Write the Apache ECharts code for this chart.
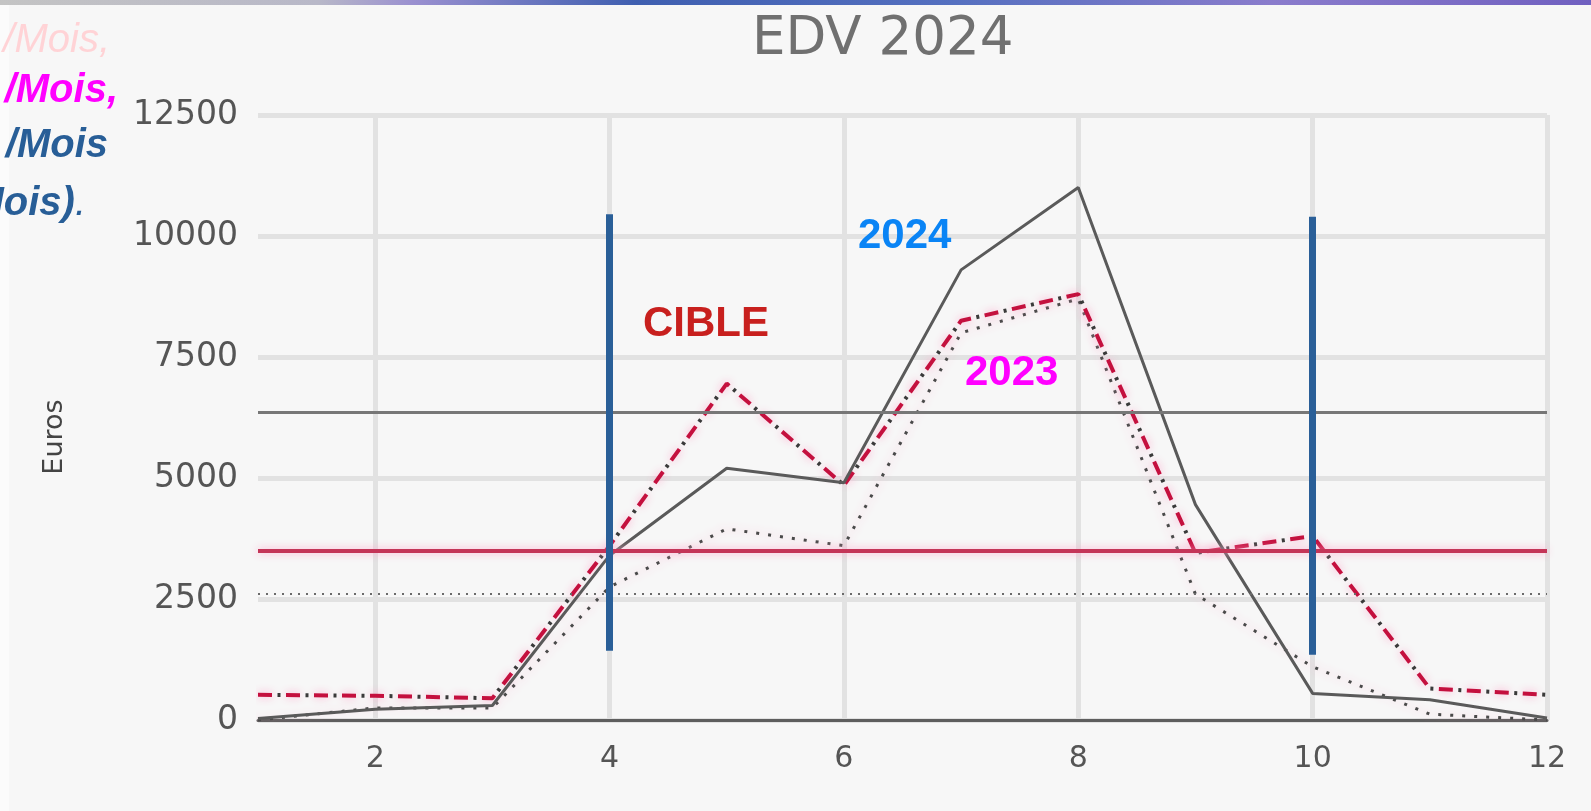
<!DOCTYPE html>
<html><head><meta charset="utf-8">
<script src="https://cdn.jsdelivr.net/npm/echarts@6/dist/echarts.min.js"></script>
<style>html,body{margin:0;padding:0;background:#f7f7f7}#c{width:1591px;height:811px}</style>
</head><body><div id="c"></div>
<script>
// ---- data ----
const months = ['1','2','3','4','5','6','7','8','9','10','11','12'];
const yTicks = [0, 2500, 5000, 7500, 10000, 12500];
const s2024 = [30, 220, 300, 3400, 5200, 4900, 9300, 11000, 4450, 550, 420, 40];
const s2023 = [520, 500, 450, 3600, 6950, 4850, 8250, 8800, 3450, 3800, 650, 520];
const sDotted = [0, 250, 250, 2750, 3950, 3600, 8000, 8700, 2600, 1100, 120, 0];
const refGray = 6350;
const refRed = 3500;
const refDotted = 2600;
const markerMonths = ['4', '10'];
const markerTop = [10450, 10400];
const markerBottom = [1430, 1350];
const titleText = 'EDV 2024';
const yName = 'Euros';
const noteLabels = ['CIBLE', '2024', '2023'];
const sideLines = ['/Mois,', '/Mois,', '/Mois', 'Mois)'];

const chart = echarts.init(document.getElementById('c'), null, {renderer: 'canvas'});
const evenIdx = (i) => i % 2 === 1;
const pinkGlow = {shadowColor: 'rgba(255,160,200,0.9)', shadowBlur: 8};

const option = {
  animation: false,
  backgroundColor: '#f7f7f7',
  title: {
    text: titleText, left: 747, top: 9,
    textStyle: {fontFamily: 'DejaVu Sans', fontSize: 53, fontWeight: 'normal', color: '#707070'}
  },
  grid: {left: 258, right: 44, top: 115, bottom: 91, containLabel: false},
  xAxis: {
    type: 'category', data: months, boundaryGap: false,
    axisLine: {show: true, lineStyle: {color: '#5e5e5e', width: 3}},
    axisTick: {show: false},
    axisLabel: {interval: evenIdx, fontFamily: 'DejaVu Sans', fontSize: 30, color: '#555', margin: 24},
    splitLine: {show: true, interval: evenIdx, lineStyle: {color: '#e2e2e2', width: 5}}
  },
  yAxis: {
    type: 'value', min: yTicks[0], max: yTicks[yTicks.length - 1], interval: yTicks[1] - yTicks[0],
    axisLine: {show: false}, axisTick: {show: false},
    axisLabel: {fontFamily: 'DejaVu Sans', fontSize: 33, color: '#555', margin: 20, formatter: (v) => String(v)},
    splitLine: {show: true, lineStyle: {color: '#e2e2e2', width: 5}}
  },
  series: [
    {
      name: 'refs', type: 'line', data: [], z: 1, silent: true,
      markLine: {
        silent: true, symbol: 'none', label: {show: false},
        data: [
          {yAxis: refGray, lineStyle: {color: '#777', width: 3, type: 'solid'}},
          {yAxis: refRed, lineStyle: Object.assign({color: '#c43558', width: 4, type: 'solid'}, pinkGlow)},
          {yAxis: refDotted, lineStyle: {color: '#6a6a6a', width: 2, type: [2, 6]}}
        ]
      }
    },
    {
      name: 'dotted', type: 'line', data: sDotted, showSymbol: false, z: 2,
      lineStyle: Object.assign({color: '#4a4a4a', width: 3, type: [3, 9]}, pinkGlow)
    },
    {
      name: '2023', type: 'line', data: s2023, showSymbol: false, z: 3,
      lineStyle: Object.assign({color: '#c4103e', width: 4, type: [14, 14]}, pinkGlow)
    },
    {
      name: '2023 dots', type: 'line', data: s2023, showSymbol: false, z: 3,
      lineStyle: {color: '#3a3a3a', width: 4, type: [3, 25], dashOffset: 8.5}
    },
    {
      name: '2024', type: 'line', data: s2024, showSymbol: false, z: 4,
      lineStyle: {color: '#5a5a5a', width: 3}
    },
    {
      name: 'markers', type: 'line', data: [], z: 10, silent: true,
      markLine: {
        silent: true, symbol: 'none', label: {show: false},
        lineStyle: {color: '#2a5f98', width: 7, type: 'solid'},
        data: markerMonths.map((m, i) => [{coord: [m, markerTop[i]]}, {coord: [m, markerBottom[i]]}])
      }
    }
  ],
  graphic: [
    {type: 'rect', z: 100, shape: {x: 0, y: 0, width: 1591, height: 5},
     style: {fill: new echarts.graphic.LinearGradient(0, 0, 1, 0, [
       {offset: 0, color: '#c4c4c4'}, {offset: 0.2, color: '#b8b8c8'}, {offset: 0.26, color: '#9a90d0'},
       {offset: 0.4, color: '#3f5fb0'}, {offset: 0.6, color: '#5570c0'}, {offset: 0.8, color: '#8a7ccc'},
       {offset: 1, color: '#7060c0'}])}},
    {type: 'rect', z: -1, shape: {x: 0, y: 5, width: 9, height: 806}, style: {fill: '#fbfbfb'}},
    {type: 'text', x: 55, y: 437, rotation: Math.PI / 2, z: 100,
     style: {text: yName, fontFamily: 'DejaVu Sans', fontSize: 27, fill: '#444', align: 'center', verticalAlign: 'middle'}},
    {type: 'text', x: 643, y: 324, z: 100,
     style: {text: noteLabels[0], fontFamily: 'Liberation Sans', fontWeight: 'bold', fontSize: 42, fill: '#c8201e', align: 'left', verticalAlign: 'middle'}},
    {type: 'text', x: 858, y: 236, z: 100,
     style: {text: noteLabels[1], fontFamily: 'Liberation Sans', fontWeight: 'bold', fontSize: 42, fill: '#0a84f5', align: 'left', verticalAlign: 'middle'}},
    {type: 'text', x: 965, y: 373, z: 100,
     style: {text: noteLabels[2], fontFamily: 'Liberation Sans', fontWeight: 'bold', fontSize: 42, fill: '#ff00ff', align: 'left', verticalAlign: 'middle'}},
    {type: 'text', x: 110, y: 41, z: 100,
     style: {text: sideLines[0], fontFamily: 'Liberation Sans', fontStyle: 'italic', fontSize: 40, fill: '#ffd3d6', align: 'right', verticalAlign: 'middle'}},
    {type: 'text', x: 118, y: 91, z: 100,
     style: {text: sideLines[1], fontFamily: 'Liberation Sans', fontStyle: 'italic', fontWeight: 'bold', fontSize: 40, fill: '#ff00ff', align: 'right', verticalAlign: 'middle'}},
    {type: 'text', x: 108, y: 146, z: 100,
     style: {text: sideLines[2], fontFamily: 'Liberation Sans', fontStyle: 'italic', fontWeight: 'bold', fontSize: 40, fill: '#285e97', align: 'right', verticalAlign: 'middle'}},
    {type: 'text', x: 86, y: 204, z: 100,
     style: {text: '{b|' + sideLines[3] + '}{n|.}', align: 'right', verticalAlign: 'middle',
       rich: {
         b: {fontFamily: 'Liberation Sans', fontStyle: 'italic', fontWeight: 'bold', fontSize: 40, fill: '#285e97'},
         n: {fontFamily: 'Liberation Sans', fontStyle: 'italic', fontSize: 40, fill: '#285e97'}
       }}}
  ]
};
chart.setOption(option);
</script>
</body></html>
